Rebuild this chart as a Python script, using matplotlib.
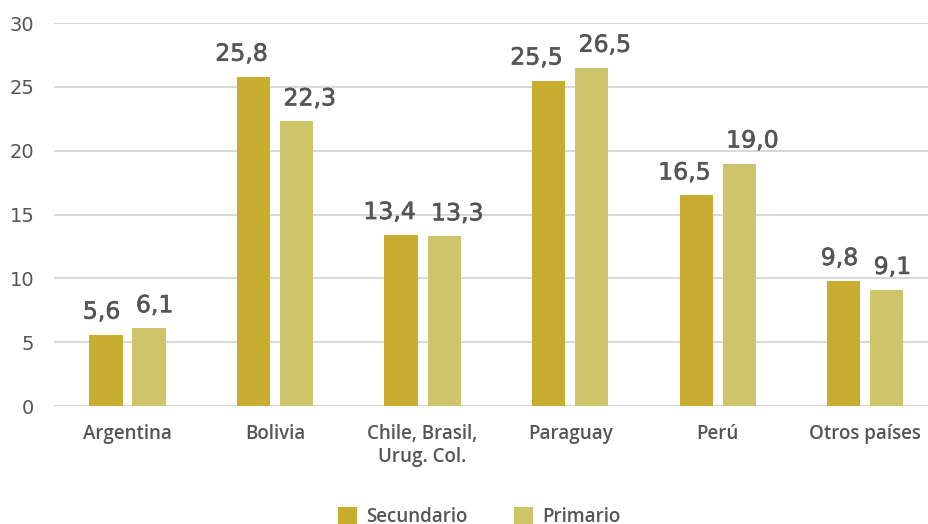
import matplotlib
matplotlib.use("Agg")
import matplotlib.pyplot as plt
import matplotlib.patheffects as pe
import numpy as np

# data
paises = ["Argentina", "Bolivia", "Chile, Brasil,\nUrug. Col.", "Paraguay", "Perú", "Otros países"]
secundario = [5.6, 25.8, 13.4, 25.5, 16.5, 9.8]
primario = [6.1, 22.3, 13.3, 26.5, 19.0, 9.1]

col_sec = "#C9AD30"
col_pri = "#CEC46A"
txt = "#555555"

plt.rcParams['font.family'] = ['Open Sans', 'DejaVu Sans']

fig = plt.figure(figsize=(9.29, 5.24), dpi=100)
ax = fig.add_axes([0.0578, 0.225, 0.953, 0.731])

x = np.arange(len(paises))
w = 0.225
off = 0.146

b1 = ax.bar(x - off, secundario, w, color=col_sec, label="Secundario", zorder=3)
b2 = ax.bar(x + off, primario, w, color=col_pri, label="Primario", zorder=3)

def fmt(v):
    return f"{v:.1f}".replace(".", ",")

# value labels: Secundario right-aligned to its bar, Primario left-aligned
stroke = [pe.withStroke(linewidth=0.45, foreground=txt)]
for b, v in zip(b1, secundario):
    ax.annotate(fmt(v), (b.get_x() + b.get_width(), v), xytext=(-1.5, 11.5),
                textcoords="offset points", ha="right", va="baseline",
                fontsize=17, color=txt, family="DejaVu Sans", path_effects=stroke)
for b, v in zip(b2, primario):
    ax.annotate(fmt(v), (b.get_x(), v), xytext=(2.5, 11.5),
                textcoords="offset points", ha="left", va="baseline",
                fontsize=17, color=txt, family="DejaVu Sans", path_effects=stroke)

ax.set_xlim(-0.5, 5.5)
ax.set_ylim(0, 30)
ax.set_yticks(range(0, 31, 5))
ax.yaxis.grid(True, color="#d9d9d9", linewidth=1.5, zorder=0)
ax.set_axisbelow(True)
for s in ax.spines.values():
    s.set_visible(False)
ax.tick_params(axis="both", length=0)
ax.tick_params(axis="y", labelsize=14, labelcolor=txt, pad=14)
for t in ax.get_yticklabels():
    t.set_family("DejaVu Sans")
ax.set_xticks(x)
ax.set_xticklabels(paises, fontsize=13.5, color=txt, fontweight="semibold", linespacing=1.2)
ax.tick_params(axis="x", pad=13)

fig.legend(handles=[b1, b2], loc="lower center", bbox_to_anchor=(0.516, -0.038), ncol=2,
           frameon=False, handlelength=1.0, handleheight=1.0,
           columnspacing=2.45, handletextpad=0.5, labelcolor=txt,
           prop={'weight': 'semibold', 'size': 13.5})

fig.savefig("out.png", dpi=100)
